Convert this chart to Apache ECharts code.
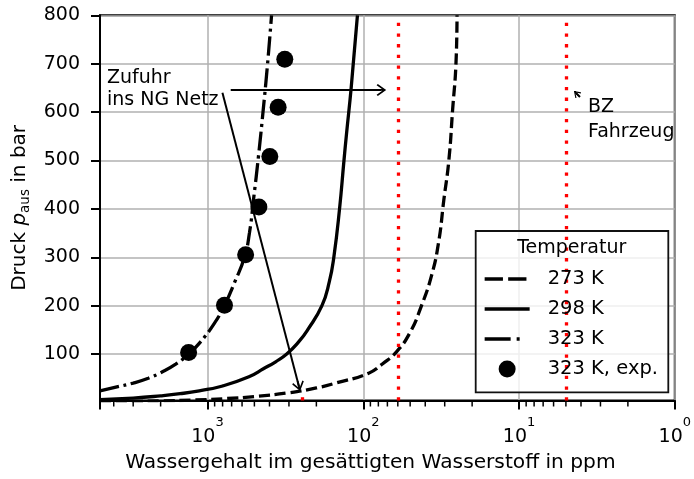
<!DOCTYPE html>
<html><head><meta charset="utf-8">
<script src="https://cdn.jsdelivr.net/npm/echarts@6/dist/echarts.min.js"></script>
<style>html,body{margin:0;padding:0;background:#fff}#c{width:694px;height:479px}</style>
</head><body><div id="c"></div>
<script>
// ---- data (ppm water content vs. pressure in bar) ----
const ppm273 = [4900, 3000, 2000, 1200, 750, 500, 300, 200, 150, 93, 75, 61, 50, 42.5, 36.6, 32.9, 30.4, 28.2, 26.7, 25.4, 25.0];
const p273   = [1.25, 2.1, 3.1, 5.1, 8.1, 12.2, 20, 30, 40, 60, 80, 105, 145, 198, 260, 329, 418, 501, 604, 700, 800];
const ppm298 = [4900, 3000, 2000, 1500, 1130, 800, 542, 435, 365, 310, 260, 227.6, 184.2, 165, 154.5, 142, 133, 128, 119.4, 109];
const p298   = [6, 9, 13.6, 18, 24, 34, 53, 70, 84, 100, 125, 150, 200, 250, 300, 400, 500, 556, 652, 800];
const ppm323 = [4900, 3940, 3000, 2400, 1983, 1600, 1322, 1130, 906, 779, 666, 579, 538, 504, 471, 439, 413, 388];
const p323   = [24, 31, 40, 50, 62, 79, 100, 122, 163, 200, 250, 300, 350, 425, 508, 604, 694, 800];
const ppmExp = [1322, 778, 569, 468, 398, 352, 319, 298];
const pExp   = [103, 201, 305, 404, 508, 610, 709, 810];
const seriesNames = ['273 K', '298 K', '323 K', '323 K, exp.'];
const yTicks = [100, 200, 300, 400, 500, 600, 700, 800];
const limitNG = 60, limitBZ = 5, limitExtra = 248;
const arrowNG = [[709.6, 645.7], [76.7, 645.7]];
const arrowDown = [[802, 640.1], [259, 33.6]];
const arrowBZ = [[4.06, 631.2], [4.28, 638.4]];

const minorVals = [];
for (let k = 0; k < 4; k++) for (let m = 2; m <= 9; m++) { const v = m * Math.pow(10, k); if (v < 4900) minorVals.push(v); }

const zip = (a, b) => a.map((v, i) => [v, b[i]]);
const FONT = '"DejaVu Sans", sans-serif';
const CHEV = 'path://M6,0 L12,8.4 L10.8,9.6 L6,2.9 L1.2,9.6 L0,8.4 Z M5.1,1 L6.9,1 L6.9,10 L5.1,10 Z';
const LW = 3.3;

const chart = echarts.init(document.getElementById('c'), null, {renderer: 'canvas'});
chart.setOption({
  animation: false,
  backgroundColor: '#fff',
  color: ['#000', '#000', '#000', '#000'],
  grid: {left: 100, right: 15.5, top: 15.3, bottom: 78.5, show: true, borderColor: '#000', borderWidth: 2, backgroundColor: 'transparent'},
  xAxis: {
    type: 'log', logBase: 10, min: 1, max: 4900, inverse: true,
    name: 'Wassergehalt im gesättigten Wasserstoff in ppm', nameLocation: 'middle', nameGap: 52,
    nameTextStyle: {fontFamily: FONT, fontSize: 20.2, color: '#000', padding: [0, 34, 0, 0]},
    axisLine: {lineStyle: {color: '#000', width: 2}},
    axisTick: {length: 9, lineStyle: {color: '#000', width: 2}},
    axisLabel: {
      margin: 16, color: '#000', fontFamily: FONT,
      formatter: v => { const l = Math.log10(v), e = Math.round(l); return Math.abs(l - e) > 1e-6 ? '' : '{b|10}{s|' + e + '}'; },
      rich: {b: {fontFamily: FONT, fontSize: 19, lineHeight: 30, verticalAlign: 'bottom', color: '#000'},
             s: {fontFamily: FONT, fontSize: 13, lineHeight: 8, verticalAlign: 'top', color: '#000'}}
    },
    splitLine: {show: true, lineStyle: {color: '#b0b0b0', width: 1.5}},
    minorTick: {show: false}
  },
  yAxis: {
    type: 'value', min: 4, max: 800, splitNumber: 8,
    name: '{a|Druck }{p|p}{s|aus}{a| in bar}', nameLocation: 'middle', nameGap: 62, nameRotate: 90,
    nameTextStyle: {rich: {
      a: {fontFamily: FONT, fontSize: 20, lineHeight: 27, color: '#000'},
      p: {fontFamily: FONT, fontSize: 20, fontStyle: 'italic', lineHeight: 27, color: '#000'},
      s: {fontFamily: FONT, fontSize: 13.5, lineHeight: 10, verticalAlign: 'bottom', color: '#000'}}},
    axisLine: {lineStyle: {color: '#000', width: 2}},
    axisTick: {length: 9, lineStyle: {color: '#000', width: 2}, customValues: yTicks},
    axisLabel: {margin: 20, color: '#000', fontFamily: FONT, fontSize: 19, customValues: yTicks,
      formatter: v => (v % 100 === 0 ? String(v) : '')},
    splitLine: {show: true, lineStyle: {color: '#b0b0b0', width: 1.5}}
  },
  legend: {
    orient: 'vertical', left: 483, top: 269, padding: 0, itemGap: 10, itemWidth: 45, itemHeight: 17, z: 6,
    selectedMode: false,
    data: [
      {name: seriesNames[0], itemStyle: {opacity: 0}, lineStyle: {type: [18.3, 5.2], width: LW}},
      {name: seriesNames[1], itemStyle: {opacity: 0}, lineStyle: {type: 'solid', width: LW}},
      {name: seriesNames[2], itemStyle: {opacity: 0}, lineStyle: {type: [26, 6, 3, 12], width: LW}},
      {name: seriesNames[3], itemStyle: {opacity: 1, color: '#000'}}
    ],
    textStyle: {fontFamily: FONT, fontSize: 19.5, color: '#000', lineHeight: 20, padding: [0, 0, 0, 13]}
  },
  graphic: [
    {type: 'rect', z: 3, shape: {x: 475.7, y: 231, width: 192.6, height: 161.3},
     style: {fill: 'rgba(255,255,255,0.8)', stroke: '#111', lineWidth: 1.8}},
    {type: 'text', z: 7, x: 571.7, y: 248.3, style: {text: 'Temperatur', font: '19px ' + FONT, fill: '#000', align: 'center', verticalAlign: 'middle', textAlign: 'center', textVerticalAlign: 'middle'}},
    {type: 'text', z: 7, x: 107, y: 78.5, style: {text: 'Zufuhr', font: '19px ' + FONT, fill: '#000', align: 'left', verticalAlign: 'middle', textAlign: 'left', textVerticalAlign: 'middle'}},
    {type: 'text', z: 7, x: 107, y: 100.2, style: {text: 'ins NG Netz', font: '19px ' + FONT, fill: '#000', align: 'left', verticalAlign: 'middle', textAlign: 'left', textVerticalAlign: 'middle'}},
    {type: 'text', z: 7, x: 588, y: 107.5, style: {text: 'BZ', font: '19px ' + FONT, fill: '#000', align: 'left', verticalAlign: 'middle', textAlign: 'left', textVerticalAlign: 'middle'}},
    {type: 'text', z: 7, x: 588, y: 132.5, style: {text: 'Fahrzeug', font: '19px ' + FONT, fill: '#000', align: 'left', verticalAlign: 'middle', textAlign: 'left', textVerticalAlign: 'middle'}}
  ],
  series: [
    {name: seriesNames[0], type: 'line', data: zip(ppm273, p273), symbol: 'none', smooth: 0.5,
     itemStyle: {color: '#000'},
     lineStyle: {color: '#000', width: LW, type: [11.1, 4.8], cap: 'butt'}, z: 2,
     markLine: {silent: true, symbol: ['none', 'none'], label: {show: false}, animation: false,
       lineStyle: {color: '#ff0000', width: 3.3, type: [3.3, 7.4], cap: 'butt'},
       data: [{xAxis: limitNG}, {xAxis: limitBZ}, [{coord: [limitExtra, 4]}, {coord: [limitExtra, 10.8]}]]}},
    {name: seriesNames[1], type: 'line', data: zip(ppm298, p298), symbol: 'none', smooth: 0.5,
     itemStyle: {color: '#000'},
     lineStyle: {color: '#000', width: LW, type: 'solid'}, z: 2,
     markLine: {silent: true, symbol: ['none', CHEV], symbolSize: [12, 10], label: {show: false}, animation: false,
       lineStyle: {color: '#000', width: 2, type: 'solid'},
       data: [
         [{coord: arrowNG[0]}, {coord: arrowNG[1]}],
         [{coord: arrowDown[0]}, {coord: arrowDown[1]}],
         [{coord: arrowBZ[0]}, {coord: arrowBZ[1], symbolSize: [8, 7]}]
       ]}},
    {name: seriesNames[2], type: 'line', data: zip(ppm323, p323), symbol: 'none', smooth: 0.5,
     itemStyle: {color: '#000'},
     lineStyle: {color: '#000', width: LW, type: [19.2, 4.8, 3, 4.8], cap: 'butt'}, z: 2},
    {name: seriesNames[3], type: 'scatter', data: zip(ppmExp, pExp), symbol: 'circle', symbolSize: 17,
     itemStyle: {color: '#000', opacity: 1}, z: 2.5},
    {type: 'custom', silent: true, clip: false, z: 1, data: minorVals.map(v => [v, 4]), encode: {x: 0, y: 1},
     renderItem: (params, api) => {
       const pt = api.coord([api.value(0), api.value(1)]);
       return {type: 'line', shape: {x1: pt[0], y1: pt[1], x2: pt[0], y2: pt[1] + 6}, style: {stroke: '#000', lineWidth: 1.5}};
     }}
  ]
});
</script></body></html>
